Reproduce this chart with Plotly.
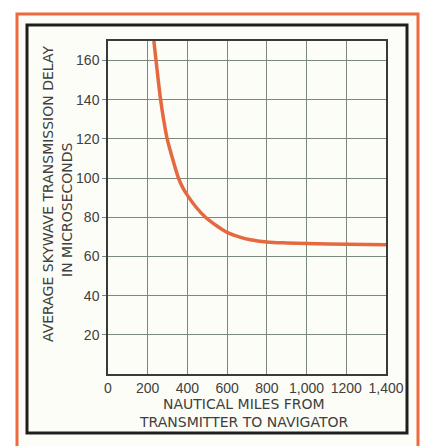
import plotly.graph_objects as go

# Skywave delay vs distance
miles = [231, 242, 253, 265, 280, 298, 325, 355, 377, 400, 445, 491, 545, 600, 660, 717, 800, 900, 1000, 1200, 1400]
delay_us = [170, 160, 150, 140, 130, 120, 110, 100, 95, 91.2, 85, 80, 75.8, 72.3, 70, 68.5, 67.4, 66.9, 66.6, 66.3, 66]

x_ticks = [0, 200, 400, 600, 800, 1000, 1200, 1400]
x_labels = ["0", "200", "400", "600", "800", "1,000", "1200", "1,400"]
y_ticks = [20, 40, 60, 80, 100, 120, 140, 160]

W, H = 426, 446
L, R, T, B = 108, 40, 41, 72
PW, PH = W - L - R, H - T - B


def px(x):
    return (x - L) / PW


def py(y):
    return (H - B - y) / PH


fig = go.Figure()
fig.add_trace(go.Scatter(
    x=miles, y=delay_us, mode="lines",
    line=dict(color="#E6683F", width=3.5, shape="spline", smoothing=0.9),
    hoverinfo="skip", showlegend=False,
))

text_col = "#404040"
grid_col = "#7c887a"
title_font = dict(family="DejaVu Sans", size=14, color=text_col)

fig.update_layout(
    width=W, height=H,
    margin=dict(l=L, r=R, t=T, b=B),
    paper_bgcolor="white",
    plot_bgcolor="#FCFCF6",
    xaxis=dict(
        range=[0, 1400], tickvals=x_ticks, ticktext=x_labels,
        showgrid=True, gridcolor=grid_col, gridwidth=1,
        showline=True, linecolor="#3a3a3a", linewidth=1.5, mirror=True,
        ticks="", zeroline=False,
        tickfont=dict(family="Liberation Sans", size=14, color=text_col),
    ),
    yaxis=dict(
        range=[0, 170], tickvals=y_ticks,
        showgrid=True, gridcolor=grid_col, gridwidth=1,
        showline=True, linecolor="#3a3a3a", linewidth=1.5, mirror=True,
        ticks="outside", ticklen=4, tickcolor=grid_col, zeroline=False,
        tickfont=dict(family="Liberation Sans", size=14, color=text_col),
    ),
    shapes=[
        # cream card behind everything
        dict(type="rect", xref="paper", yref="paper", layer="below",
             x0=px(17), x1=px(418), y0=py(452), y1=py(14),
             fillcolor="#FDFDF7", line=dict(width=0)),
        # outer orange frame
        dict(type="rect", xref="paper", yref="paper",
             x0=px(17), x1=px(418), y0=py(452), y1=py(14),
             line=dict(color="#EE6A3E", width=3)),
        # inner black frame
        dict(type="rect", xref="paper", yref="paper",
             x0=px(27), x1=px(407), y0=py(433), y1=py(25),
             line=dict(color="#1e1e1e", width=3)),
    ],
    annotations=[
        dict(text="AVERAGE SKYWAVE TRANSMISSION DELAY", textangle=-90,
             xref="paper", yref="paper", x=px(48), y=py(194),
             showarrow=False, xanchor="center", yanchor="middle", font=title_font),
        dict(text="IN MICROSECONDS", textangle=-90,
             xref="paper", yref="paper", x=px(67), y=py(210),
             showarrow=False, xanchor="center", yanchor="middle", font=title_font),
        dict(text="NAUTICAL MILES FROM",
             xref="paper", yref="paper", x=px(244), y=py(404),
             showarrow=False, xanchor="center", yanchor="middle", font=title_font),
        dict(text="TRANSMITTER TO NAVIGATOR",
             xref="paper", yref="paper", x=px(244), y=py(422),
             showarrow=False, xanchor="center", yanchor="middle", font=title_font),
    ],
)

fig.write_html("out.html", config={"displayModeBar": False},
               post_script="document.body.style.margin='0';")
